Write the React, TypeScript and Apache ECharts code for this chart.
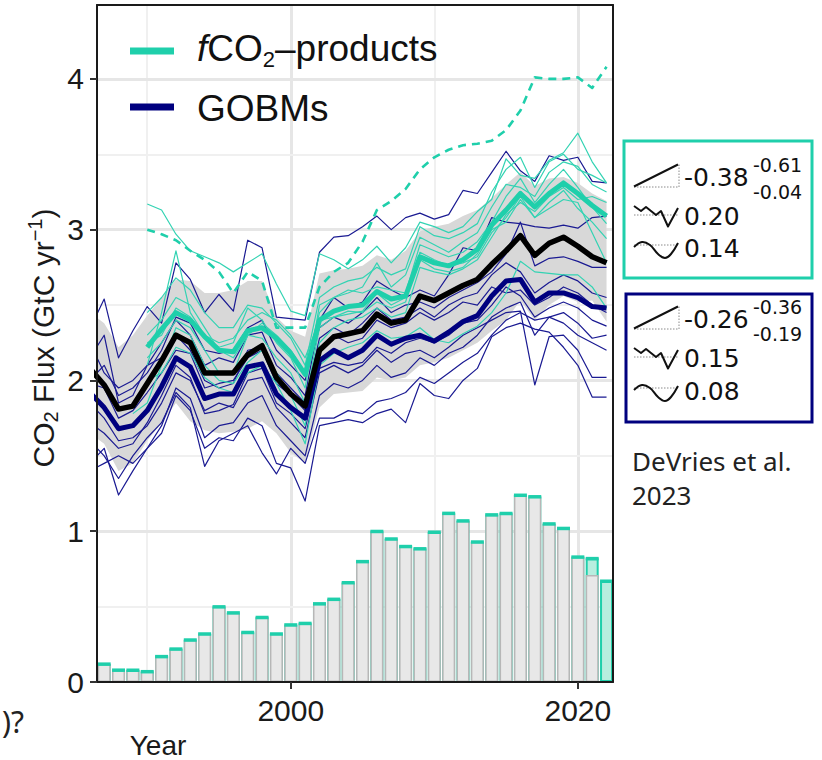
import React, { useEffect, useRef } from 'react';
import * as echarts from 'echarts';

// ---------- data ----------
const years = [
  1986, 1987, 1988, 1989, 1990, 1991, 1992, 1993, 1994, 1995,
  1996, 1997, 1998, 1999, 2000, 2001, 2002, 2003, 2004, 2005,
  2006, 2007, 2008, 2009, 2010, 2011, 2012, 2013, 2014, 2015,
  2016, 2017, 2018, 2019, 2020, 2021, 2022,
];

// bars: all observations (cyan) and the subset shown in grey
const obsTotal = [
  null, 0.12, 0.08, 0.08, 0.07, 0.17, 0.22, 0.28, 0.32, 0.50,
  0.46, 0.33, 0.43, 0.32, 0.38, 0.39, 0.52, 0.55, 0.66, 0.80,
  1.00, 0.95, 0.90, 0.885, 0.995, 1.12, 1.07, 0.93, 1.11, 1.12,
  1.24, 1.23, 1.05, 1.02, 0.83, 0.82, 0.67,
];
const obsGrey = [
  null, 0.12, 0.08, 0.08, 0.07, 0.17, 0.22, 0.28, 0.32, 0.50,
  0.46, 0.33, 0.43, 0.32, 0.38, 0.39, 0.52, 0.55, 0.66, 0.80,
  1.00, 0.95, 0.90, 0.885, 0.995, 1.12, 1.07, 0.93, 1.11, 1.12,
  1.24, 1.23, 1.05, 1.02, 0.83, 0.71, null,
];

const ensembleMean = [
  2.08, 1.97, 1.81, 1.83, 1.98, 2.13, 2.30, 2.25, 2.05, 2.05,
  2.05, 2.17, 2.23, 2.02, 1.91, 1.83, 2.20, 2.29, 2.31, 2.33,
  2.44, 2.38, 2.40, 2.56, 2.53, 2.58, 2.63, 2.67, 2.77, 2.86,
  2.96, 2.83, 2.91, 2.95, 2.89, 2.82, 2.78,
];
const bandUpper = [
  2.45, 2.38, 2.22, 2.30, 2.43, 2.55, 2.67, 2.66, 2.58, 2.58,
  2.60, 2.66, 2.66, 2.42, 2.33, 2.29, 2.71, 2.73, 2.74, 2.76,
  2.83, 2.80, 2.86, 2.99, 3.02, 3.04, 3.09, 3.13, 3.21, 3.30,
  3.38, 3.29, 3.34, 3.35, 3.31, 3.24, 3.19,
];
const bandLower = [
  1.65, 1.58, 1.40, 1.45, 1.60, 1.72, 1.85, 1.73, 1.67, 1.65,
  1.66, 1.68, 1.73, 1.65, 1.52, 1.45, 1.82, 1.91, 1.92, 1.93,
  2.02, 2.00, 2.02, 2.10, 2.12, 2.15, 2.20, 2.25, 2.33, 2.40,
  2.53, 2.40, 2.50, 2.56, 2.52, 2.53, 2.39,
];
const gobmMean = [
  1.92, 1.82, 1.68, 1.70, 1.80, 1.96, 2.15, 2.09, 1.88, 1.91,
  1.91, 2.09, 2.11, 1.91, 1.82, 1.75, 2.13, 2.20, 2.15, 2.20,
  2.30, 2.24, 2.28, 2.30, 2.26, 2.32, 2.39, 2.43, 2.56, 2.66,
  2.67, 2.52, 2.58, 2.58, 2.55, 2.49, 2.48,
];
const productMean = [
  null, null, null, null, 2.22, 2.34, 2.45, 2.40, 2.29, 2.20,
  2.19, 2.33, 2.35, 2.28, 2.18, 2.04, 2.40, 2.46, 2.49, 2.50,
  2.59, 2.54, 2.56, 2.82, 2.78, 2.76, 2.80, 2.87, 3.03, 3.13,
  3.24, 3.15, 3.24, 3.31, 3.24, 3.16, 3.09,
];
const productOutlier = [
  null, null, null, null, 3.00, 2.97, 2.93, 2.86, 2.80, 2.72,
  2.58, 2.72, 2.66, 2.35, 2.35, 2.35, 2.62, 2.72, 2.78, 2.92,
  3.13, 3.19, 3.27, 3.40, 3.48, 3.53, 3.56, 3.57, 3.59, 3.66,
  3.79, 4.01, 4.00, 4.00, 4.01, 3.94, 4.08,
];

// individual ocean biogeochemistry models
const gobm1 = [2.34, 2.54, 2.15, 2.33, 2.49, 2.38, 2.78, 2.67, 2.45, 2.57, 2.46, 2.93, 2.88, 2.42, 2.41, 2.40, 2.85, 2.95, 2.96, 3.02, 3.09, 3.00, 3.08, 3.11, 3.07, 3.10, 3.26, 3.24, 3.38, 3.52, 3.39, 3.32, 3.49, 3.46, 3.48, 3.32, 3.31];
const gobm2 = [2.25, 2.05, 1.95, 2.00, 2.10, 2.25, 2.40, 2.30, 2.10, 2.15, 2.12, 2.30, 2.32, 2.10, 2.02, 1.90, 2.40, 2.55, 2.48, 2.52, 2.66, 2.60, 2.55, 2.60, 2.56, 2.70, 2.88, 2.86, 3.08, 3.05, 3.04, 3.02, 3.01, 3.03, 3.01, 3.08, 3.09];
const gobm3 = [2.00, 2.10, 1.90, 1.95, 2.05, 2.20, 2.42, 2.38, 2.20, 2.18, 2.20, 2.35, 2.40, 2.20, 2.10, 2.00, 2.35, 2.42, 2.38, 2.45, 2.55, 2.45, 2.50, 2.52, 2.48, 2.55, 2.60, 2.65, 2.72, 2.84, 3.05, 2.76, 2.81, 2.82, 2.79, 2.75, 2.75];
const gobm4 = [1.45, 1.55, 1.24, 1.40, 1.55, 1.70, 1.95, 1.88, 1.62, 1.70, 1.72, 1.85, 1.90, 1.70, 1.60, 1.50, 1.90, 1.98, 1.95, 2.00, 2.10, 2.02, 2.05, 2.15, 2.10, 2.18, 2.22, 2.30, 2.42, 2.48, 2.52, 2.30, 2.42, 2.45, 2.38, 2.28, 2.30];
const gobm5 = [1.40, 1.45, 1.50, 1.45, 1.55, 1.65, 1.90, 1.80, 1.55, 1.62, 1.60, 1.75, 1.70, 1.45, 1.42, 1.20, 1.70, 1.72, 1.74, 1.72, 1.78, 1.81, 1.72, 1.98, 1.90, 1.88, 2.00, 2.08, 2.29, 2.35, 2.38, 2.34, 2.32, 2.22, 2.10, 1.89, 1.89];
const gobm6 = [1.85, 1.75, 1.60, 1.62, 1.70, 1.85, 2.05, 2.00, 1.80, 1.85, 1.82, 2.00, 2.02, 1.82, 1.72, 1.62, 2.05, 2.10, 2.05, 2.10, 2.20, 2.12, 2.18, 2.20, 2.15, 2.22, 2.30, 2.35, 2.40, 2.45, 2.46, 1.97, 2.29, 2.30, 2.20, 2.02, 2.02];
const gobm7 = [1.60, 1.50, 1.35, 1.50, 1.62, 1.72, 1.92, 1.82, 1.43, 1.60, 1.65, 1.70, 1.52, 1.38, 1.55, 1.45, 1.75, 1.75, 1.80, 1.78, 1.86, 1.88, 1.92, 2.02, 1.98, 2.05, 2.12, 2.18, 2.30, 2.40, 2.45, 2.40, 2.42, 2.38, 2.30, 2.25, 2.20];
const gobm8 = [1.98, 1.95, 1.75, 1.80, 1.92, 2.05, 2.20, 2.18, 1.95, 1.98, 2.00, 2.15, 2.20, 1.98, 1.90, 1.80, 2.20, 2.30, 2.25, 2.28, 2.40, 2.35, 2.38, 2.45, 2.40, 2.45, 2.52, 2.50, 2.62, 2.58, 2.60, 2.50, 2.55, 2.62, 2.58, 2.50, 2.45];
const gobm9 = [1.72, 1.65, 1.55, 1.58, 1.72, 1.90, 2.10, 2.02, 1.78, 1.80, 1.84, 2.05, 2.08, 1.85, 1.78, 1.68, 2.08, 2.12, 2.10, 2.12, 2.22, 2.18, 2.25, 2.28, 2.25, 2.30, 2.38, 2.40, 2.50, 2.62, 2.56, 2.42, 2.48, 2.52, 2.48, 2.40, 2.36];
const gobm10 = [2.15, 2.30, 1.85, 1.90, 2.10, 2.15, 2.30, 2.20, 2.00, 1.95, 1.98, 2.20, 2.22, 2.05, 1.95, 1.85, 2.28, 2.35, 2.30, 2.38, 2.48, 2.40, 2.42, 2.48, 2.42, 2.50, 2.55, 2.58, 2.70, 2.78, 2.72, 2.58, 2.65, 2.70, 2.66, 2.58, 2.55];

// individual fCO2-based products
const prod1 = [null, null, null, null, 3.17, 3.13, 2.97, 2.86, 2.82, 2.78, 2.72, 2.78, 2.84, 2.64, 2.46, 2.43, 2.84, 2.80, 2.74, 2.80, 2.89, 2.78, 2.88, 3.05, 3.02, 2.98, 3.02, 3.12, 3.20, 3.47, 3.36, 3.34, 3.46, 3.51, 3.64, 3.45, 3.31];
const prod2 = [null, null, null, null, 2.10, 2.45, 2.86, 2.45, 2.30, 2.22, 2.25, 2.48, 2.40, 2.25, 2.15, 1.95, 2.50, 2.55, 2.58, 2.62, 2.78, 2.62, 2.70, 2.95, 2.90, 2.85, 2.92, 2.98, 3.15, 3.30, 3.28, 3.22, 3.38, 3.45, 3.42, 3.30, 3.25];
const prod3 = [null, null, null, null, 2.00, 2.05, 2.22, 2.18, 2.02, 1.95, 1.92, 2.05, 2.10, 1.98, 1.80, 1.58, 2.10, 2.18, 2.22, 2.25, 2.33, 2.28, 2.29, 2.35, 2.27, 2.25, 2.31, 2.36, 2.45, 2.58, 2.79, 2.72, 2.71, 2.70, 2.70, 2.62, 2.48];
const prod4 = [null, null, null, null, 2.30, 2.40, 2.55, 2.50, 2.35, 2.20, 2.15, 2.30, 2.38, 2.30, 2.20, 2.05, 2.45, 2.55, 2.60, 2.58, 2.62, 2.60, 2.58, 2.90, 2.86, 2.82, 2.85, 2.92, 3.05, 3.22, 3.34, 3.18, 3.30, 3.40, 3.28, 3.15, 3.04];
const prod5 = [null, null, null, null, 2.25, 2.30, 2.48, 2.42, 2.30, 2.25, 2.28, 2.40, 2.45, 2.40, 2.30, 2.15, 2.40, 2.42, 2.46, 2.45, 2.52, 2.48, 2.52, 2.85, 2.80, 2.76, 2.78, 2.82, 2.98, 3.08, 3.22, 3.08, 3.18, 3.26, 3.14, 3.05, 2.94];
const prod6 = [null, null, null, null, 2.45, 2.55, 2.68, 2.60, 2.45, 2.35, 2.35, 2.50, 2.48, 2.38, 2.28, 2.10, 2.55, 2.62, 2.66, 2.68, 2.75, 2.70, 2.74, 3.02, 2.96, 2.94, 2.98, 3.04, 3.25, 3.40, 3.48, 3.28, 3.45, 3.50, 3.40, 3.36, 3.31];
const prod7 = [null, null, null, 1.78, 1.85, 2.10, 2.35, 2.30, 2.10, 2.00, 1.98, 2.12, 2.20, 2.05, 1.90, 1.70, 2.25, 2.35, 2.40, 2.42, 2.48, 2.42, 2.45, 2.75, 2.72, 2.70, 2.74, 2.80, 2.95, 3.10, 3.18, 3.12, 3.22, 3.28, 3.20, 3.22, 3.18];
const prod8 = [null, null, null, null, 2.15, 2.25, 2.40, 2.35, 2.20, 2.05, 2.05, 2.30, 2.28, 2.15, 2.05, 1.85, 2.35, 2.42, 2.44, 2.46, 2.58, 2.50, 2.55, 2.80, 2.74, 2.72, 2.75, 2.84, 3.00, 3.05, 3.20, 3.08, 3.14, 3.20, 3.18, 2.98, 2.78];

const gobmRuns = [gobm1, gobm2, gobm3, gobm4, gobm5, gobm6, gobm7, gobm8, gobm9, gobm10];
const productRuns = [prod1, prod2, prod3, prod4, prod5, prod6, prod7, prod8];

// axis ticks and reference grid
const xTickLabels = [2000, 2020];
const yTickLabels = [0, 1, 2, 3, 4];
const xMajorGrid = [2000, 2020];
const xMinorGrid = [1990, 2010];
const yMajorGrid = [1, 2, 3, 4];
const yMinorGrid = [0.5, 1.5, 2.5, 3.5];

// trend / variability statistics for the two groups
const productTrend = ['-0.38', '-0.61', '-0.04'];
const productVariability = ['0.20', '0.14'];
const gobmTrend = ['-0.26', '-0.36', '-0.19'];
const gobmVariability = ['0.15', '0.08'];

// ---------- styling ----------
const CYAN = '#1fcfab';
const NAVY = '#00007f';
const THIN_NAVY = '#1a1a92';
const THIN_CYAN = '#33d3b3';
const FONT = '"Liberation Sans", Arial, Helvetica, sans-serif';
const NOTE_FONT = '"Noto Sans", "Open Sans", sans-serif';
const NUM_FONT = '"DejaVu Sans", sans-serif';
const X_MIN = 1986.5;
const X_MAX = 2022.45;
const Y_MAX = 4.49;

const pts = (vals: (number | null)[]) =>
  years.map((y, i) => [y, vals[i]]).filter((p) => p[1] !== null && p[1] !== undefined);

const plainLine = (name: string, vals: (number | null)[], color: string, width: number, z: number, dash?: number[]) => ({
  type: 'line',
  name,
  data: pts(vals),
  symbol: 'none',
  silent: true,
  clip: true,
  z,
  lineStyle: { color, width, type: dash ? dash : 'solid', cap: 'butt', join: 'round' },
});

function statsPanel(
  box: number[],
  color: string,
  rows: number[],
  trend: string[],
  variability: string[],
) {
  const [bx, by, bw, bh] = box;
  const [r1, r2, r3] = rows;
  const dotted = { stroke: '#8a8a8a', lineWidth: 1, lineDash: [1.5, 1.5], fill: 'none' };
  const solid = { stroke: '#111', lineWidth: 2, fill: 'none', lineJoin: 'round' };
  const numStyle = (text: string, size: number) => ({
    text,
    fontSize: size,
    fontFamily: NUM_FONT,
    fill: '#111',
    align: 'left',
    verticalAlign: 'middle',
  });
  return [
    {
      type: 'rect',
      shape: { x: bx, y: by, width: bw, height: bh },
      style: { fill: '#fff', stroke: color, lineWidth: 3 },
    },
    // trend glyph
    { type: 'polyline', shape: { points: [[634, r1 + 10], [679, r1 + 10], [679, r1 - 13]] }, style: dotted },
    { type: 'line', shape: { x1: 634, y1: r1 + 9.5, x2: 678, y2: r1 - 12.5 }, style: solid },
    { type: 'text', x: 684, y: r1, style: numStyle(trend[0], 25) },
    { type: 'text', x: 753, y: r1 - 12, style: numStyle(trend[1], 19) },
    { type: 'text', x: 753, y: r1 + 14.5, style: numStyle(trend[2], 19) },
    // interannual glyph
    { type: 'line', shape: { x1: 634, y1: r2 - 1, x2: 678, y2: r2 - 1 }, style: dotted },
    {
      type: 'polyline',
      shape: { points: [[634, r2 - 10], [641, r2 - 5], [646, r2 - 9], [656, r2 - 1], [661, r2 - 5], [668, r2 + 10.5], [678, r2 - 8]] },
      style: solid,
    },
    { type: 'text', x: 684, y: r2, style: numStyle(variability[0], 25) },
    // decadal glyph
    { type: 'line', shape: { x1: 634, y1: r3 - 3, x2: 678, y2: r3 - 3 }, style: dotted },
    {
      type: 'polyline',
      shape: { points: [[634, r3 - 1], [642, r3 - 6], [650, r3 - 3], [658, r3 + 6], [665, r3 + 10], [671, r3 + 6], [678, r3 - 5]], smooth: 0.4 },
      style: solid,
    },
    { type: 'text', x: 684, y: r3, style: numStyle(variability[1], 25) },
  ].map((el) => ({ ...el, silent: true, z: 100 }));
}

const gridLines = [
  ...xMajorGrid.map((v) => ({ xAxis: v, lineStyle: { color: '#e6e6e6', width: 3, type: 'solid' } })),
  ...xMinorGrid.map((v) => ({ xAxis: v, lineStyle: { color: '#f0f0f0', width: 2, type: 'solid' } })),
  ...yMajorGrid.map((v) => ({ yAxis: v, lineStyle: { color: '#e6e6e6', width: 3, type: 'solid' } })),
  ...yMinorGrid.map((v) => ({ yAxis: v, lineStyle: { color: '#f0f0f0', width: 2, type: 'solid' } })),
];

const frameAxis = (position: string) => ({
  type: 'value',
  position,
  min: position === 'top' ? X_MIN : 0,
  max: position === 'top' ? X_MAX : Y_MAX,
  z: 10,
  axisLine: { show: true, onZero: false, lineStyle: { color: '#1a1a1a', width: 2 } },
  axisTick: { show: false },
  axisLabel: { show: false },
  splitLine: { show: false },
});

const option = {
  animation: false,
  backgroundColor: '#ffffff',
  textStyle: { fontFamily: FONT },
  grid: { left: 97, right: 209, top: 5, bottom: 78, show: false, containLabel: false, outerBoundsMode: 'none' },
  xAxis: [
    {
      type: 'value',
      min: X_MIN,
      max: X_MAX,
      z: 10,
      axisLine: { show: true, onZero: false, lineStyle: { color: '#1a1a1a', width: 2 } },
      axisTick: { show: true, customValues: xTickLabels, length: 7, lineStyle: { color: '#333', width: 2 } },
      axisLabel: {
        show: true,
        customValues: xTickLabels,
        formatter: (v: number) => String(v),
        fontSize: 30,
        fontFamily: FONT,
        color: '#1a1a1a',
        margin: 13,
      },
      splitLine: { show: false },
    },
    frameAxis('top'),
  ],
  yAxis: [
    {
      type: 'value',
      min: 0,
      max: Y_MAX,
      z: 10,
      axisLine: { show: true, onZero: false, lineStyle: { color: '#1a1a1a', width: 2 } },
      axisTick: { show: true, customValues: yTickLabels, length: 7, lineStyle: { color: '#333', width: 2 } },
      axisLabel: {
        show: true,
        customValues: yTickLabels,
        formatter: (v: number) => String(v),
        fontSize: 30,
        fontFamily: FONT,
        color: '#1a1a1a',
        margin: 13,
        showMinLabel: true,
      },
      splitLine: { show: false },
    },
    frameAxis('right'),
  ],
  series: [
    {
      type: 'line',
      name: 'grid',
      data: [],
      silent: true,
      z: 1,
      markLine: {
        silent: true,
        z: 1,
        symbol: ['none', 'none'],
        label: { show: false },
        emphasis: { disabled: true },
        animation: false,
        data: gridLines,
      },
    },
    {
      type: 'bar',
      name: 'all observations',
      data: pts(obsTotal),
      barWidth: 13,
      barGap: '-100%',
      silent: true,
      z: 2,
      itemStyle: { color: '#b8eedf', borderColor: CYAN, borderWidth: 2 },
    },
    {
      type: 'bar',
      name: 'subset',
      data: pts(obsGrey),
      barWidth: 13,
      barGap: '-100%',
      silent: true,
      z: 2,
      itemStyle: { color: '#e8e8e8', borderColor: '#b7b7b7', borderWidth: 1.5 },
    },
    {
      type: 'custom',
      name: 'bar caps',
      data: pts(obsTotal),
      silent: true,
      clip: true,
      z: 3,
      renderItem: (_params: any, api: any) => {
        const p = api.coord([api.value(0), api.value(1)]);
        return {
          type: 'rect',
          shape: { x: p[0] - 6.5, y: p[1] - 1.5, width: 13, height: 3.5 },
          style: { fill: CYAN },
        };
      },
    },
    {
      // ensemble spread as one polygon: upper edge forward, lower edge back
      type: 'custom',
      name: 'spread',
      data: [[years[0], bandLower[0], bandUpper[0]]],
      silent: true,
      clip: true,
      z: 2,
      renderItem: (params: any, api: any) => {
        const top = years.map((y, i) => api.coord([y, bandUpper[i]]));
        const bottom = years.map((y, i) => api.coord([y, bandLower[i]])).reverse();
        const cs = params.coordSys;
        return {
          type: 'polygon',
          shape: { points: top.concat(bottom) },
          style: { fill: '#d8d8d8' },
          clipPath: { type: 'rect', shape: { x: cs.x, y: cs.y, width: cs.width, height: cs.height } },
        };
      },
    },
    ...gobmRuns.map((r, i) => plainLine('GOBM ' + (i + 1), r, THIN_NAVY, 1.2, 3)),
    ...productRuns.map((r, i) => plainLine('product ' + (i + 1), r, THIN_CYAN, 1.2, 3)),
    plainLine('product (dashed)', productOutlier, CYAN, 2.6, 4, [8, 6]),
    plainLine('fCO2-products', productMean, CYAN, 5, 5),
    plainLine('GOBMs', gobmMean, NAVY, 5, 5),
    plainLine('ensemble', ensembleMean, '#000', 5.5, 6),
  ],
  graphic: [
    // legend
    { type: 'line', silent: true, z: 100, shape: { x1: 130, y1: 51, x2: 174, y2: 51 }, style: { stroke: CYAN, lineWidth: 7 } },
    { type: 'line', silent: true, z: 100, shape: { x1: 130, y1: 107, x2: 174, y2: 107 }, style: { stroke: NAVY, lineWidth: 7 } },
    {
      type: 'text',
      silent: true,
      z: 100,
      x: 197,
      y: 48,
      style: {
        text: '{i|f}{a|CO}{s|2}{a|–products}',
        fill: '#111',
        fontFamily: FONT,
        fontSize: 37,
        align: 'left',
        verticalAlign: 'middle',
        rich: {
          i: { fontStyle: 'italic', fontSize: 37, fontFamily: FONT, lineHeight: 44 },
          a: { fontSize: 37, fontFamily: FONT, lineHeight: 44 },
          s: { fontSize: 22, fontFamily: FONT, lineHeight: 18, verticalAlign: 'bottom' },
        },
      },
    },
    {
      type: 'text',
      silent: true,
      z: 100,
      x: 197,
      y: 108,
      style: { text: 'GOBMs', fill: '#111', fontFamily: FONT, fontSize: 37, align: 'left', verticalAlign: 'middle' },
    },
    // y axis title
    {
      type: 'text',
      silent: true,
      z: 100,
      x: 43,
      y: 338,
      rotation: Math.PI / 2,
      style: {
        text: '{a|CO}{s|2}{a| Flux (GtC yr}{p|−1}{a|)}',
        fill: '#1a1a1a',
        fontFamily: FONT,
        fontSize: 30,
        align: 'center',
        verticalAlign: 'middle',
        rich: {
          a: { fontSize: 30, fontFamily: FONT, lineHeight: 36 },
          s: { fontSize: 20, fontFamily: FONT, lineHeight: 24, verticalAlign: 'bottom' },
          p: { fontSize: 20, fontFamily: FONT, lineHeight: 12, verticalAlign: 'top' },
        },
      },
    },
    // x axis title
    {
      type: 'text',
      silent: true,
      z: 100,
      x: 158,
      y: 745,
      style: { text: 'Year', fill: '#1a1a1a', fontFamily: FONT, fontSize: 28, align: 'center', verticalAlign: 'middle' },
    },
    {
      type: 'text',
      silent: true,
      z: 100,
      x: 2,
      y: 721,
      style: { text: ')?', fill: '#222', fontFamily: NOTE_FONT, fontSize: 30, align: 'left', verticalAlign: 'middle' },
    },
    // statistics panels
    ...statsPanel([624, 141, 188, 137], CYAN, [177, 216, 248], productTrend, productVariability),
    ...statsPanel([626, 294, 186, 128], NAVY, [319, 358, 391], gobmTrend, gobmVariability),
    {
      type: 'text',
      silent: true,
      z: 100,
      x: 632,
      y: 461,
      style: { text: 'DeVries et al.', fill: '#222', fontFamily: NOTE_FONT, fontSize: 26, align: 'left', verticalAlign: 'middle' },
    },
    {
      type: 'text',
      silent: true,
      z: 100,
      x: 632,
      y: 495,
      style: { text: '2023', fill: '#222', fontFamily: NOTE_FONT, fontSize: 26, align: 'left', verticalAlign: 'middle' },
    },
  ],
};

export default function App() {
  const ref = useRef<HTMLDivElement>(null);
  useEffect(() => {
    if (!ref.current) return;
    const chart = echarts.init(ref.current, null, { renderer: 'svg' });
    chart.setOption(option as any);
    return () => chart.dispose();
  }, []);
  return (
    <div
      ref={ref}
      style={{ position: 'absolute', left: 0, top: 0, width: 822, height: 760, background: '#fff' }}
    />
  );
}
